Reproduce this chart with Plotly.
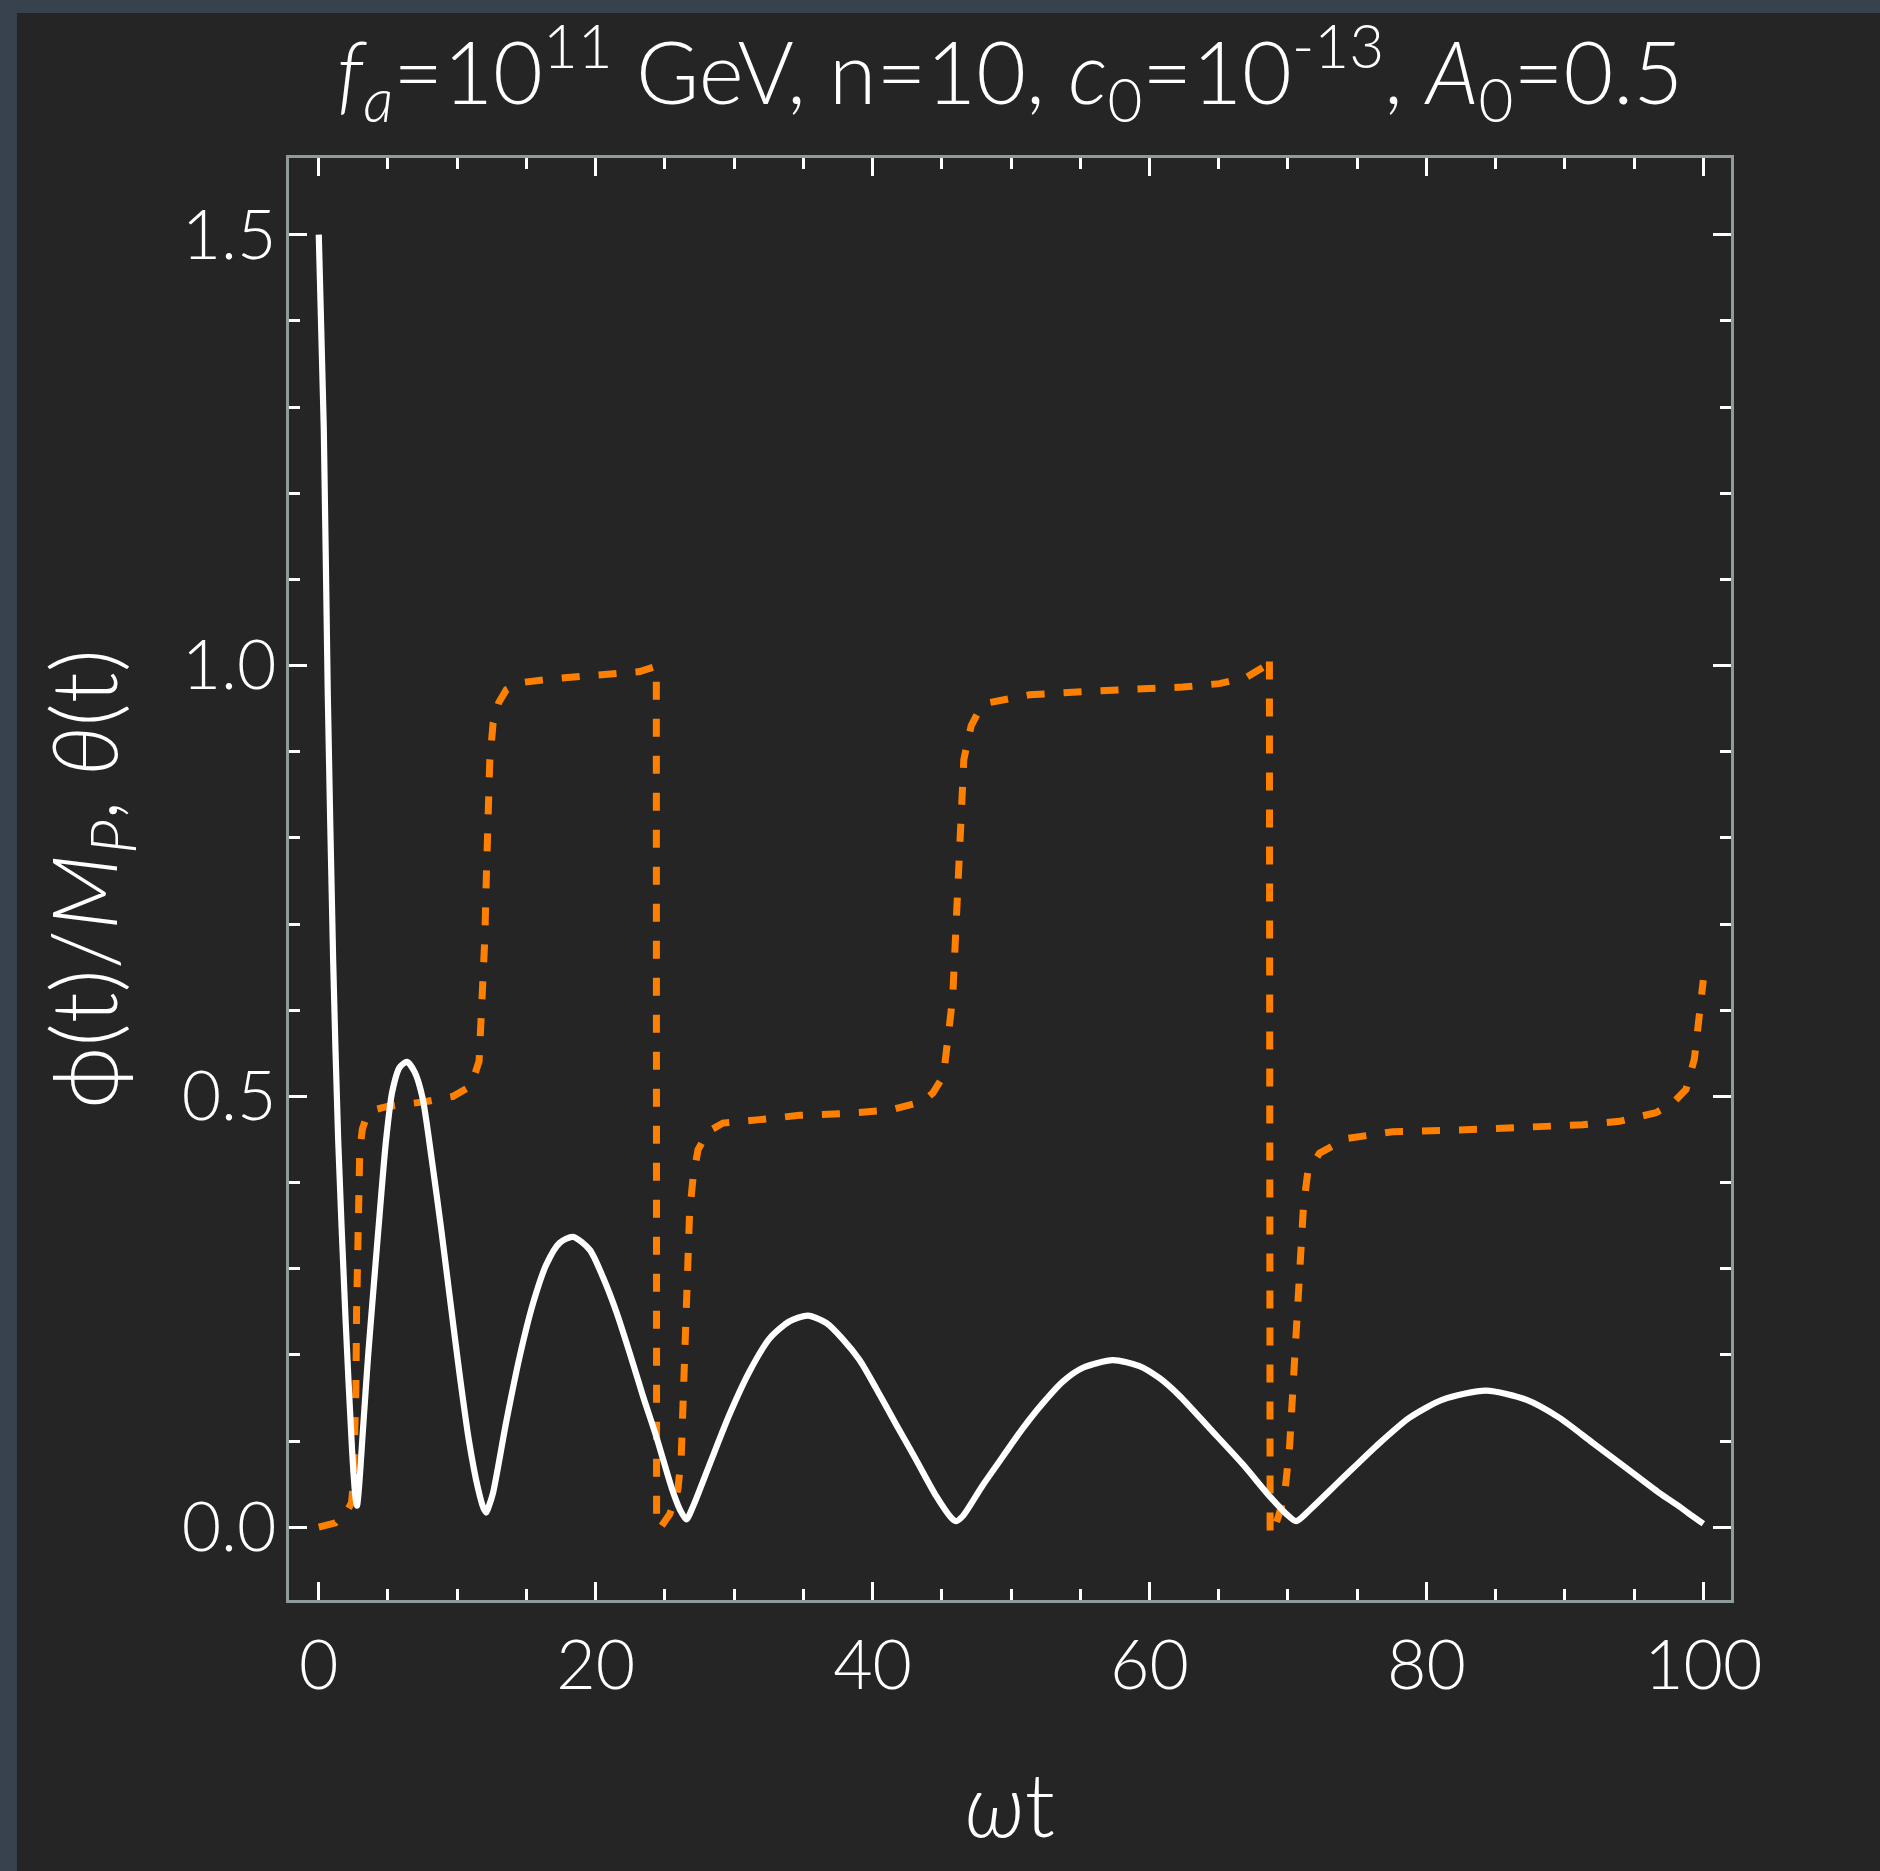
import plotly.graph_objects as go

# ---------------- data ----------------
phi_t = [0.00, 0.36, 0.65, 1.04, 1.40, 1.93, 2.41, 2.65, 2.76, 2.90, 3.20, 3.56, 3.97,
         4.40, 4.84, 5.30, 5.85, 6.38, 6.93, 7.50, 8.15, 8.85, 9.50, 10.15, 10.85,
         11.50, 11.90, 12.10, 12.30, 12.59, 13.55, 14.51, 15.48, 16.44, 17.40, 18.36,
         19.57, 20.53, 21.49, 22.46, 23.42, 24.40, 25.50, 26.10, 26.55, 27.03, 28.23,
         29.67, 31.12, 32.56, 34.01, 35.33, 36.65, 37.86, 39.06, 40.26, 41.71, 43.15,
         44.60, 45.68, 46.04, 46.52, 47.97, 49.41, 50.86, 52.30, 53.74, 55.19, 57.35,
         59.28, 60.72, 62.20, 64.33, 66.74, 68.67, 69.87, 70.59, 71.55, 73.96, 76.37,
         78.77, 81.18, 84.31, 87.20, 89.60, 92.00, 94.41, 96.80, 98.27, 98.90, 100.0]
phi_v = [1.500, 1.277, 0.967, 0.657, 0.450, 0.243, 0.088, 0.035, 0.025, 0.045, 0.115,
         0.198, 0.280, 0.364, 0.446, 0.505, 0.534, 0.540, 0.528, 0.498, 0.428, 0.345,
         0.262, 0.180, 0.100, 0.045, 0.022, 0.017, 0.025, 0.040, 0.123, 0.198, 0.260,
         0.305, 0.330, 0.337, 0.322, 0.290, 0.250, 0.202, 0.152, 0.104, 0.045, 0.020,
         0.009, 0.024, 0.073, 0.131, 0.181, 0.219, 0.239, 0.2455, 0.237, 0.218, 0.194,
         0.161, 0.119, 0.078, 0.036, 0.011, 0.007, 0.013, 0.049, 0.082, 0.115, 0.144,
         0.169, 0.185, 0.194, 0.187, 0.173, 0.152, 0.115, 0.073, 0.036, 0.0155, 0.007,
         0.0197, 0.057, 0.094, 0.127, 0.148, 0.1585, 0.148, 0.127, 0.098, 0.069, 0.040,
         0.024, 0.0165, 0.004]

theta_t = [0.00, 1.20, 2.00, 2.36, 2.50, 2.60, 2.68, 2.73, 2.78, 2.85, 2.96, 3.15,
           3.44, 3.90, 4.89, 7.77, 9.70, 10.78, 11.20, 11.58, 11.74, 11.91, 11.99,
           12.11, 12.23, 12.35, 12.59, 13.00, 13.55, 14.51, 17.16, 19.80, 22.45,
           23.18, 24.38, 24.40, 24.74, 25.34, 25.70, 25.94, 26.18, 26.30, 26.42,
           26.54, 26.66, 26.78, 27.03, 27.39, 28.11, 29.19, 31.84, 34.73, 37.85,
           41.22, 43.15, 43.64, 44.36, 44.90, 45.20, 45.44, 45.65, 45.80, 45.99,
           46.16, 46.33, 46.59, 47.12, 47.70, 48.45, 51.33, 55.42, 59.51, 62.40,
           65.05, 66.98, 68.30, 68.66, 68.71, 69.05, 69.30, 69.75, 70.12, 70.35,
           70.54, 70.71, 70.88, 71.12, 71.44, 72.28, 74.20, 77.57, 82.38, 85.15,
           88.64, 91.29, 93.94, 96.58, 97.79, 98.75, 99.35, 99.71, 100.0]
theta_v = [0.000, 0.005, 0.018, 0.028, 0.050, 0.090, 0.160, 0.250, 0.330, 0.400,
           0.437, 0.462, 0.476, 0.484, 0.488, 0.494, 0.500, 0.510, 0.522, 0.541,
           0.585, 0.628, 0.682, 0.759, 0.836, 0.889, 0.933, 0.957, 0.972, 0.980,
           0.985, 0.988, 0.991, 0.993, 0.999, 0.000, 0.001, 0.015, 0.030, 0.044,
           0.082, 0.136, 0.198, 0.260, 0.314, 0.364, 0.405, 0.438, 0.459, 0.469,
           0.473, 0.478, 0.480, 0.484, 0.492, 0.494, 0.504, 0.518, 0.535, 0.562,
           0.596, 0.620, 0.686, 0.763, 0.837, 0.891, 0.930, 0.948, 0.957, 0.966,
           0.970, 0.972, 0.975, 0.979, 0.986, 0.999, 1.011, -0.009, 0.000, 0.012,
           0.036, 0.094, 0.156, 0.219, 0.281, 0.326, 0.372, 0.413, 0.434, 0.451,
           0.459, 0.461, 0.463, 0.465, 0.467, 0.471, 0.481, 0.492, 0.508, 0.543,
           0.589, 0.635]

x_tickvals = [0, 20, 40, 60, 80, 100]
x_ticktext = ["0", "20", "40", "60", "80", "100"]
y_tickvals = [0.0, 0.5, 1.0, 1.5]
y_ticktext = ["0.0", "0.5", "1.0", "1.5"]

title_text = ("<i>f</i><sub><i>a</i></sub>=10<sup>11</sup> GeV, n=10, "
              "<i>c</i><sub>0</sub>=10<sup>-13</sup>, <i>A</i><sub>0</sub>=0.5")
xtitle_text = "<i>ω</i>t"
ytitle_text = "ϕ(t)/<i>M</i><sub><i>P</i></sub>, <i>θ</i>(t)"

# ---------------- layout geometry ----------------
W, H = 1880, 1871
L, R, T, B = 289, 149, 158, 271
PW, PH = W - L - R, H - T - B

def px_x(X):
    return (X - L) / PW

def px_y(Y):
    return (H - B - Y) / PH

FONT = "Lato, 'Noto Sans', sans-serif"
BG = "#252525"
BORDER = "#37424e"
FRAME = "#8f9b9b"
WEIGHT = 300

fig = go.Figure()
fig.add_trace(go.Scatter(x=theta_t, y=theta_v, mode="lines",
                         line=dict(color="#ff8000", width=7, dash="18px,19px"),
                         showlegend=False, hoverinfo="skip"))
fig.add_trace(go.Scatter(x=phi_t, y=phi_v, mode="lines",
                         line=dict(color="white", width=6.2, shape="spline",
                                   smoothing=0.7),
                         showlegend=False, hoverinfo="skip"))

axis_common = dict(
    showgrid=False, zeroline=False,
    showline=True, linecolor=FRAME, linewidth=3, mirror="allticks",
    ticks="inside", tickcolor="white", tickwidth=3, ticklen=18,
    tickfont=dict(family=FONT, size=68, color="white", weight=WEIGHT),
)

fig.update_xaxes(**axis_common, range=[-2.15, 102.0],
                 tickvals=x_tickvals, ticktext=x_ticktext,
                 ticklabelstandoff=4,
                 minor=dict(dtick=5, tick0=0, ticks="inside", ticklen=11,
                            tickwidth=3, tickcolor="white"))
fig.update_yaxes(**axis_common, range=[-0.0845, 1.589],
                 tickvals=y_tickvals, ticktext=y_ticktext,
                 ticklabelstandoff=-4,
                 minor=dict(dtick=0.1, tick0=0, ticks="inside", ticklen=11,
                            tickwidth=3, tickcolor="white"))

fig.update_layout(
    width=W, height=H,
    margin=dict(l=L, r=R, t=T, b=B, pad=0),
    paper_bgcolor=BG, plot_bgcolor=BG,
    title=dict(text=title_text, x=0.5, xref="paper", xanchor="center",
               y=1 - 74 / H, yref="container", yanchor="middle",
               font=dict(family=FONT, size=86, color="white", weight=WEIGHT)),
    shapes=[
        dict(type="rect", xref="paper", yref="paper", layer="below",
             x0=px_x(0), x1=px_x(17), y0=px_y(H), y1=px_y(0),
             fillcolor=BORDER, line=dict(width=0)),
        dict(type="rect", xref="paper", yref="paper", layer="below",
             x0=px_x(0), x1=px_x(W), y0=px_y(13), y1=px_y(0),
             fillcolor=BORDER, line=dict(width=0)),
    ],
    annotations=[
        dict(text=xtitle_text, xref="paper", yref="paper",
             x=0.5, y=px_y(1803), xanchor="center", yanchor="middle",
             showarrow=False,
             font=dict(family=FONT, size=88, color="white", weight=WEIGHT)),
        dict(text=ytitle_text, xref="paper", yref="paper",
             x=px_x(88), y=0.5, xanchor="center", yanchor="middle",
             textangle=-90, showarrow=False,
             font=dict(family=FONT, size=90, color="white", weight=WEIGHT)),
    ],
)

fig.write_html("out.html",
               config={"displayModeBar": False},
               post_script="document.body.style.margin='0';"
                           "document.body.style.background='#252525';")
